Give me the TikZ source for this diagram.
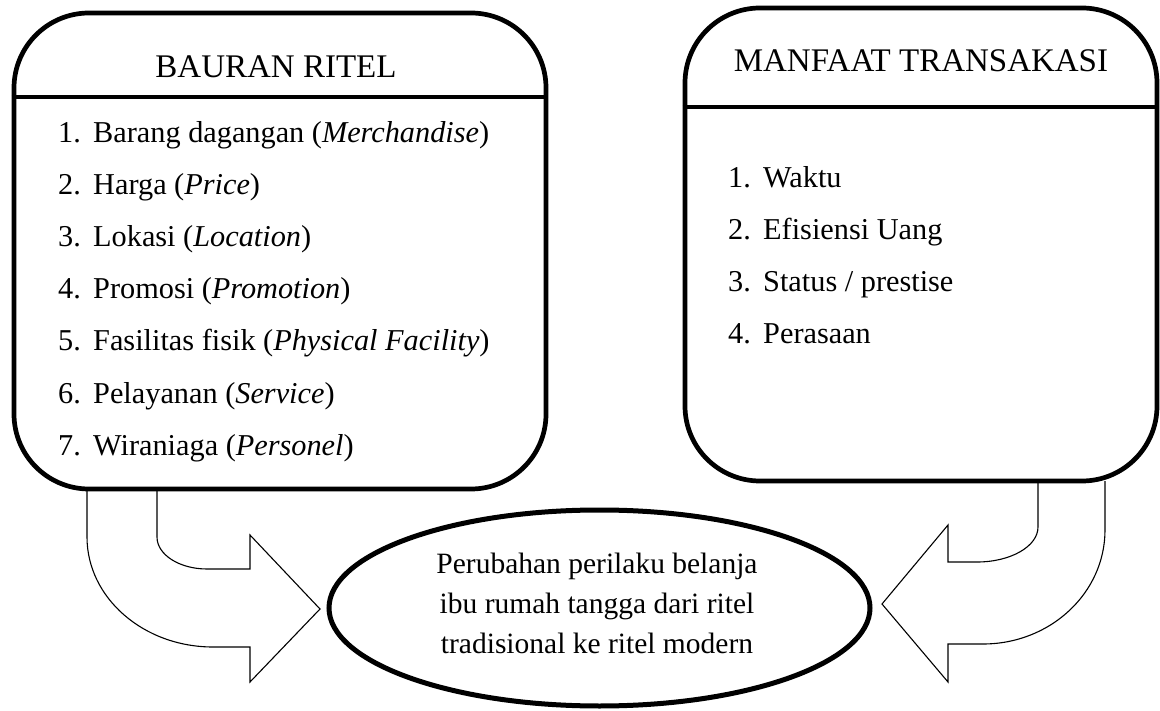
\documentclass[tikz,border=0pt]{standalone}
\usepackage{fontspec}
\setmainfont{Liberation Serif}
\usetikzlibrary{shapes.geometric}
\begin{document}
\begin{tikzpicture}[x=1pt,y=1pt,
  roundbox/.style={draw, line width=4.7pt, rounded corners=75pt, rectangle, inner sep=0pt},
  divider/.style={line width=4.7pt},
  blockarrow/.style={draw, line width=1.1pt, line join=miter},
  ttl/.style={anchor=base, inner sep=0pt, font=\fontsize{33}{40}\selectfont},
  txt/.style={anchor=base, inner sep=0pt, font=\fontsize{29.5}{36}\selectfont},
  itm/.style={anchor=base west, inner sep=0pt, font=\fontsize{30.3}{36}\selectfont},
  oval/.style={draw, ellipse, line width=5pt, inner sep=0pt}
]
\useasboundingbox (0,0) rectangle (1160,-711);

% block arrows (behind boxes)
\draw[blockarrow] (87,-489) -- (87,-537)
  arc[start angle=180, end angle=270, x radius=126pt, y radius=110pt]
  -- (250,-647) -- (250,-682) -- (320,-609) -- (250,-535) -- (250,-569) -- (207,-569)
  arc[start angle=270, end angle=180, x radius=50pt, y radius=32pt]
  -- (157,-489);
\draw[blockarrow] (1105,-481) -- (1105,-530)
  arc[start angle=0, end angle=-90, x radius=122pt, y radius=114pt]
  -- (948,-644) -- (948,-682) -- (882,-604) -- (948,-525) -- (948,-562) -- (977,-562)
  arc[start angle=-90, end angle=0, x radius=61pt, y radius=35pt]
  -- (1038,-481);

% left box
\node[roundbox, minimum width=532pt, minimum height=476pt] (bauran) at (280,-251) {};
\draw[divider] (bauran.west |- 0,-97) -- (bauran.east |- 0,-97);
\node[ttl] (t1) at (276,-78) {BAURAN RITEL};
\node[itm] (a1) at (58,-143) {\makebox[35pt][l]{1.}Barang dagangan (\textit{Merchandise})};
\node[itm] (a2) at (58,-195) {\makebox[35pt][l]{2.}Harga (\textit{Price})};
\node[itm] (a3) at (58,-247) {\makebox[35pt][l]{3.}Lokasi (\textit{Location})};
\node[itm] (a4) at (58,-299) {\makebox[35pt][l]{4.}Promosi (\textit{Promotion})};
\node[itm] (a5) at (58,-351) {\makebox[35pt][l]{5.}Fasilitas fisik (\textit{Physical Facility})};
\node[itm] (a6) at (58,-403) {\makebox[35pt][l]{6.}Pelayanan (\textit{Service})};
\node[itm] (a7) at (58,-455) {\makebox[35pt][l]{7.}Wiraniaga (\textit{Personel})};

% right box
\node[roundbox, minimum width=472pt, minimum height=473pt] (manfaat) at (921,-244.5) {};
\draw[divider] (manfaat.west |- 0,-107) -- (manfaat.east |- 0,-107);
\node[ttl] (t2) at (921,-72) {MANFAAT TRANSAKASI};
\node[itm] (b1) at (728,-188) {\makebox[35pt][l]{1.}Waktu};
\node[itm] (b2) at (728,-240) {\makebox[35pt][l]{2.}Efisiensi Uang};
\node[itm] (b3) at (728,-292) {\makebox[35pt][l]{3.}Status / prestise};
\node[itm] (b4) at (728,-344) {\makebox[35pt][l]{4.}Perasaan};

% ellipse
\node[oval, minimum width=541pt, minimum height=196pt] (hasil) at (599.5,-608) {};
\node[txt] (e1) at (597,-573) {Perubahan perilaku belanja};
\node[txt] (e2) at (597,-613) {ibu rumah tangga dari ritel};
\node[txt] (e3) at (597,-653) {tradisional ke ritel modern};
\end{tikzpicture}
\end{document}
